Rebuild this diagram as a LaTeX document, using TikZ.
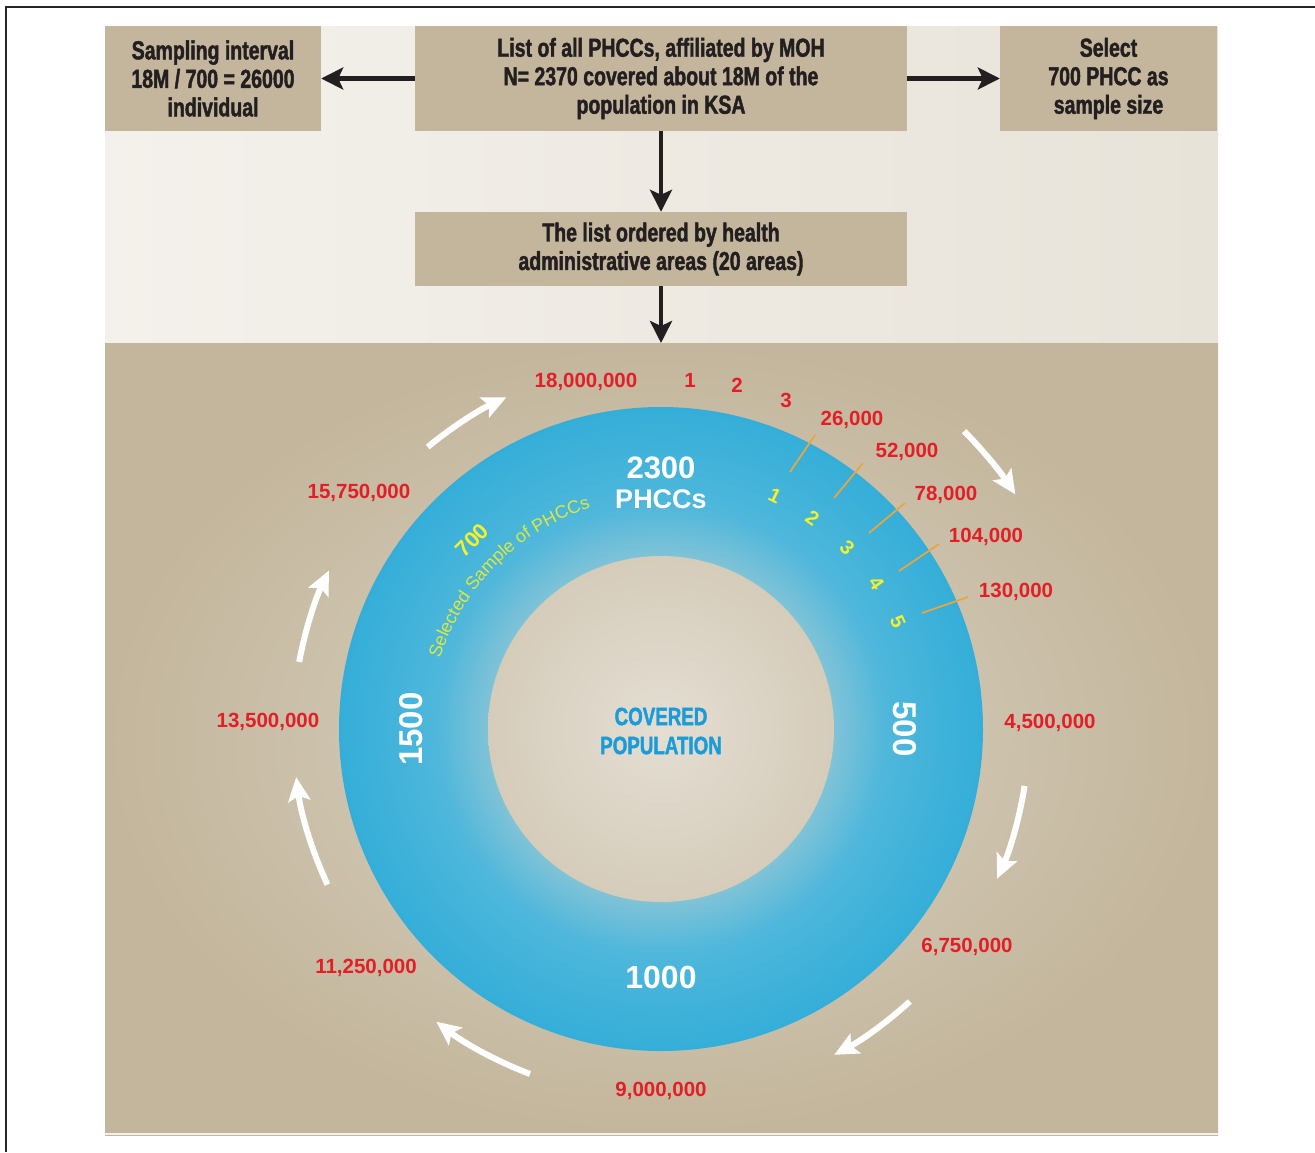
\documentclass[tikz,border=0pt]{standalone}
\usepackage{fontspec}
\setmainfont{Liberation Sans}
\newfontfamily\condb[FakeStretch=0.75,FakeBold=1.6]{Liberation Sans Bold}
\usetikzlibrary{arrows.meta,decorations.text,calc}
\definecolor{boxc}{HTML}{C4B69C}
\definecolor{txtc}{HTML}{231F20}
\definecolor{upl}{HTML}{F4F1EC}
\definecolor{upr}{HTML}{E8E3D9}
\definecolor{lowin}{HTML}{DAD2C3}
\definecolor{lowout}{HTML}{C3B69C}
\definecolor{ringin}{HTML}{80C3D7}
\definecolor{ringmid}{HTML}{4FB7DB}
\definecolor{ringout}{HTML}{34AED9}
\definecolor{corein}{HTML}{E4DED3}
\definecolor{coreout}{HTML}{D5CCBA}
\definecolor{redc}{HTML}{E31E26}
\definecolor{selc}{HTML}{DDE83E}
\definecolor{digc}{HTML}{F3F02C}
\definecolor{orc}{HTML}{E9A540}
\definecolor{bluec}{HTML}{1B9BD7}
\pgfdeclareradialshading{ringshade}{\pgfpoint{0bp}{0bp}}{color(0bp)=(ringin); color(13.4bp)=(ringin); color(17.5bp)=(ringmid); color(25bp)=(ringout); color(50bp)=(ringout)}
\begin{document}
\begin{tikzpicture}[x=1pt,y=1pt,
  boxstyle/.style={fill=boxc, inner sep=0pt, align=center, text=txtc,
    font=\condb\fontsize{26}{28.5}\selectfont},
  blkarrow/.style={draw=txtc, line width=4.5pt, -{Stealth[length=22pt,width=22pt,inset=5pt]}},
  warrow/.style={draw=white, line width=6pt, -{Stealth[length=24pt,width=22pt,inset=5pt]}},
  redlbl/.style={text=redc, inner sep=0pt, font=\bfseries\fontsize{20.5}{20.5}\selectfont},
  ydig/.style={text=digc, inner sep=0pt, font=\bfseries\fontsize{20}{20}\selectfont},
  whitenum/.style={text=white, inner sep=0pt, font=\bfseries\fontsize{33}{33}\selectfont},
  orline/.style={draw=orc, line width=1.8pt}]
\useasboundingbox (0,0) rectangle (1315,-1152);
% frame
\draw[line width=1.5pt, draw=black!85] (1315,-7) -- (6,-7) -- (6,-1152);
% panels
\shade[left color=upl, right color=upr] (105,-26) rectangle (1218,-343);
\shade[inner color=lowin, outer color=lowout] (105,-343) rectangle (1218,-1135);
\draw[white!80!lowout, line width=1.5pt] (105,-1134) -- (1218,-1134);
% boxes
\node[boxstyle, minimum width=216pt, minimum height=105pt] (left) at (213,-78.5)
  {Sampling interval\\18M / 700 = 26000\\individual};
\node[boxstyle, minimum width=492pt, minimum height=105pt] (mid) at (661,-78.5)
  {List of all PHCCs, affiliated by MOH\\N= 2370 covered about 18M of the\\population in KSA};
\node[boxstyle, minimum width=217pt, minimum height=105pt] (right) at (1108.5,-78.5)
  {Select\\700 PHCC as\\sample size};
\node[boxstyle, minimum width=492pt, minimum height=74pt] (order) at (661,-249)
  {The list ordered by health\\administrative areas (20 areas)};
\coordinate (panel) at (661,-343);
\draw[blkarrow] (mid.west) -- (left.east);
\draw[blkarrow] (mid.east) -- (right.west);
\draw[blkarrow] (mid.south) -- (order.north);
\draw[blkarrow] (order.south) -- (panel);
% circle
\coordinate (C) at (661,-729);
\shade[shading=ringshade] (C) circle (322);
\shade[inner color=corein, outer color=coreout] (C) circle (173);
% white arrows
\foreach \a/\b/\r in {129.6/115/366, 44.5/33.5/425, -8.9/-24/368, -47.6/-62/369, 249.2/232.5/369, 205/187.5/368, 169.5/154.5/368}
  \draw[warrow] ([shift={(\a:\r)}]C) arc[start angle=\a, end angle=\b, radius=\r];
% red labels
\node[redlbl] (r18) at (586,-382) {18,000,000};
\node[redlbl] (t1) at (690,-380) {1};
\node[redlbl] (t2) at (737,-385) {2};
\node[redlbl] (t3) at (786,-400) {3};
\node[redlbl] (r26) at (852,-420) {26,000};
\node[redlbl] (r52) at (907,-452) {52,000};
\node[redlbl] (r78) at (946,-495) {78,000};
\node[redlbl] (r104) at (986,-537) {104,000};
\node[redlbl] (r130) at (1016,-592) {130,000};
\node[redlbl] (r45) at (1050,-723) {4,500,000};
\node[redlbl] (r675) at (967,-947) {6,750,000};
\node[redlbl] (r9) at (661,-1091) {9,000,000};
\node[redlbl] (r1125) at (366,-968) {11,250,000};
\node[redlbl] (r135) at (268,-722) {13,500,000};
\node[redlbl] (r1575) at (359,-493) {15,750,000};
% orange ticks
\draw[orline] (790,-472) -- (815,-435);
\draw[orline] (834,-498) -- (863,-463);
\draw[orline] (869,-533) -- (905,-503);
\draw[orline] (899,-571) -- (939,-544);
\draw[orline] (922,-613) -- (968,-597);
% yellow digits
\foreach \i/\a in {1/64, 2/54.4, 3/44.3, 4/34, 5/24.3}
  \node[ydig, rotate=\a-90] (y\i) at ([shift={(\a:260)}]C) {\i};
% ring texts
\node[text=white, inner sep=0pt, font=\bfseries\fontsize{31}{31}\selectfont] (n2300) at (661,-468) {2300};
\node[text=white, inner sep=0pt, font=\bfseries\fontsize{27}{27}\selectfont] (nphcc) at (661,-499) {PHCCs};
\node[whitenum, rotate=90] (n1500) at (411,-729) {1500};
\node[whitenum, rotate=-90] (n500) at (905,-729) {500};
\node[whitenum, font=\bfseries\fontsize{32}{32}\selectfont] (n1000) at (661,-977) {1000};
\node[text=digc, inner sep=0pt, rotate=45, font=\bfseries\fontsize{22}{22}\selectfont] (n700) at ([shift={(135:267)}]C) {700};
\path[decorate, decoration={text along path, text align=center, text color=selc,
   text={|\fontsize{18}{18}\selectfont|Selected Sample of PHCCs}}]
  ([shift={(165:232)}]C) arc[start angle=165, end angle=105, radius=232];
\node[text=bluec, align=center, inner sep=0pt, font=\condb\fontsize{25}{29}\selectfont] (cov) at (661,-731) {COVERED\\POPULATION};
\end{tikzpicture}
\end{document}
